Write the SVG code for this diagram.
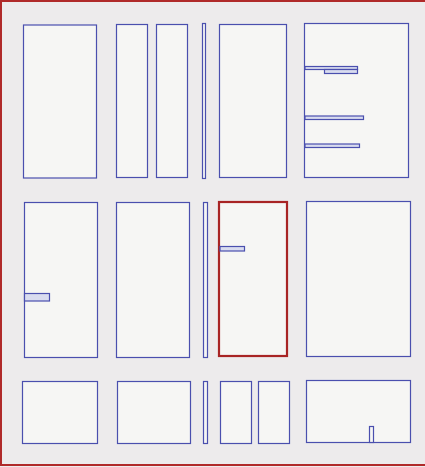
<svg xmlns="http://www.w3.org/2000/svg" width="425" height="467" viewBox="0 0 425 467">
<style>
.bg{fill:#edebec}
.room{fill:#f6f6f4;stroke:#4a4fae;stroke-width:1.2}
.bar{fill:#d9dcef;stroke:#4a4fae;stroke-width:1.2}
.sel{fill:#f6f6f4;stroke:#a82424;stroke-width:2.2}
.frame{fill:none;stroke:#b02a2a;stroke-width:2}
</style>
<rect class="bg" x="0" y="0" width="425" height="467"/>
<rect class="frame" x="1" y="1" width="426" height="464"/>
<g id="r1a"><rect class="room" x="23.5" y="25" width="73" height="153"/></g>
<g id="r1b"><rect class="room" x="116.5" y="24.5" width="31" height="153"/></g>
<g id="r1c"><rect class="room" x="156.5" y="24.5" width="31" height="153"/></g>
<g id="r1d"><rect class="room" x="202.5" y="23.5" width="3" height="155"/></g>
<g id="r1e"><rect class="room" x="219.5" y="24.5" width="67" height="153"/></g>
<g id="r1f"><rect class="room" x="304.5" y="23.5" width="104" height="154"/>
<rect class="bar" x="305" y="66.5" width="52.5" height="3"/>
<rect class="bar" x="324.5" y="69.5" width="33" height="4"/>
<rect class="bar" x="305" y="116" width="58.5" height="3.5"/>
<rect class="bar" x="305" y="144" width="54.5" height="3.5"/></g>
<g id="r2a"><rect class="room" x="24.5" y="202.5" width="73" height="155"/>
<rect class="bar" x="24.5" y="293.5" width="25" height="7.5"/></g>
<g id="r2b"><rect class="room" x="116.5" y="202.5" width="73" height="155"/></g>
<g id="r2c"><rect class="room" x="203.5" y="202.5" width="4" height="155"/></g>
<g id="r2d"><rect class="sel" x="219" y="202" width="68" height="154"/>
<rect class="bar" x="220" y="246.5" width="24.5" height="4.5"/></g>
<g id="r2e"><rect class="room" x="306.5" y="201.5" width="104" height="155"/></g>
<g id="r3a"><rect class="room" x="22.5" y="381.5" width="75" height="62"/></g>
<g id="r3b"><rect class="room" x="117.5" y="381.5" width="73" height="62"/></g>
<g id="r3c"><rect class="room" x="203.5" y="381.5" width="4" height="62"/></g>
<g id="r3d"><rect class="room" x="220.5" y="381.5" width="31" height="62"/></g>
<g id="r3e"><rect class="room" x="258.5" y="381.5" width="31" height="62"/></g>
<g id="r3f"><rect class="room" x="306.5" y="380.5" width="104" height="62"/>
<rect class="room" x="369.5" y="426.5" width="4" height="16"/></g>
<g id="connectors"/>
</svg>
